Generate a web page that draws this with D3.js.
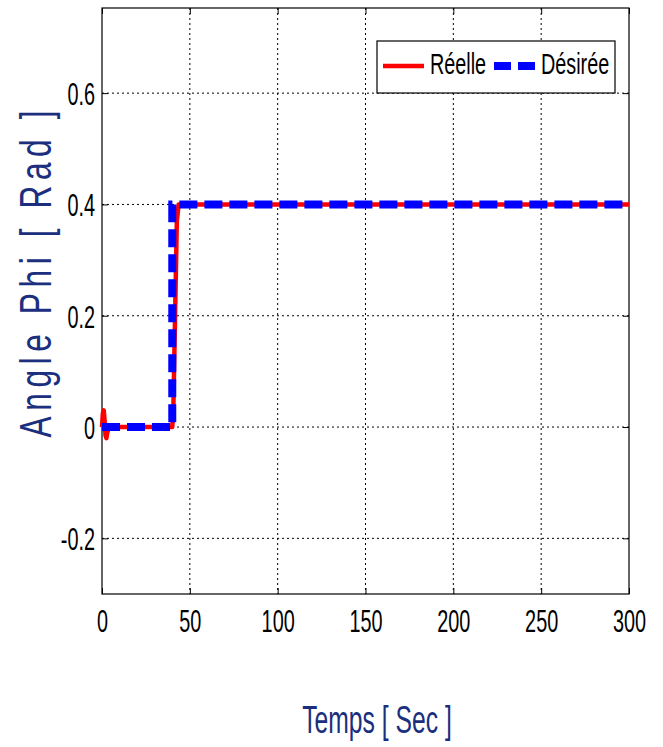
<!DOCTYPE html>
<html><head><meta charset="utf-8">
<script src="https://cdn.jsdelivr.net/npm/d3@7"></script>
<style>body{margin:0;background:#fff}svg{display:block}</style>
</head><body><svg id="c" width="663" height="747"></svg>
<script>
const xTicks = [0,50,100,150,200,250,300];
const yTicks = [-0.2,0,0.2,0.4,0.6];
const reelleT = [0,0.5,1,1.5,2,2.5,3,4,40,40.6,41.6,42.6,43.6,300];
const reelleV = [0,0.025,0.03,0.01,-0.015,-0.02,-0.01,0,0,0.03,0.2,0.37,0.4,0.4];
const desireeT = [0,40,40,300];
const desireeV = [0,0,0.4,0.4];
const seriesNames = ["Réelle","Désirée"];

const W=663,H=747,m={l:102,r:34,t:8,b:153};
const SX=0.62;
const svg=d3.select("#c");
const FONT='"Liberation Sans",Arial,sans-serif';
const x=d3.scaleLinear().domain([0,300]).range([m.l,W-m.r]);
const y=d3.scaleLinear().domain([-0.3,0.753]).range([H-m.b,m.t]);
const g=svg.append("g");
// grid
g.selectAll(".gx").data(xTicks.slice(1,-1)).join("line")
 .attr("x1",d=>x(d)).attr("x2",d=>x(d)).attr("y1",m.t).attr("y2",H-m.b)
 .attr("stroke","#000").attr("stroke-width",1).attr("stroke-dasharray","2,3");
g.selectAll(".gy").data(yTicks).join("line")
 .attr("y1",d=>y(d)).attr("y2",d=>y(d)).attr("x1",m.l).attr("x2",W-m.r)
 .attr("stroke","#000").attr("stroke-width",1).attr("stroke-dasharray","2,3");
// axes
const ax=d3.axisBottom(x).tickValues(xTicks).tickSize(-6).tickFormat(d3.format("d"));
const axT=d3.axisTop(x).tickValues(xTicks).tickSize(-6).tickFormat("");
const ay=d3.axisLeft(y).tickValues(yTicks).tickSize(-6).tickFormat(d=>d===0?"0":d3.format(".1f")(d).replace("−","-"));
const ayR=d3.axisRight(y).tickValues(yTicks).tickSize(-6).tickFormat("");
function style(s){s.select(".domain").remove();s.selectAll("line").attr("stroke","#000");
 s.selectAll("text").attr("font-family",FONT).attr("font-size",32).attr("fill","#000");}
g.append("g").attr("transform",`translate(0,${H-m.b})`).call(ax).call(style)
 .selectAll("text").attr("y",0).attr("dy",0).attr("transform",`translate(0,38) scale(${SX},1)`);
g.append("g").attr("transform",`translate(0,${m.t})`).call(axT).call(style);
g.append("g").attr("transform",`translate(${m.l},0)`).call(ay).call(style)
 .selectAll("text").attr("x",0).attr("dy","0.36em").attr("transform",`translate(-7,0) scale(${SX},1)`);
g.append("g").attr("transform",`translate(${W-m.r},0)`).call(ayR).call(style);
g.append("rect").attr("x",m.l).attr("y",m.t).attr("width",W-m.l-m.r).attr("height",H-m.t-m.b)
 .attr("fill","none").attr("stroke","#000").attr("stroke-width",1.2);
// lines
const line=d3.line().x(d=>x(d[0])).y(d=>y(d[1]));
const pl=svg.append("g");
pl.append("path").datum(reelleT.map((t,i)=>[t,reelleV[i]])).attr("d",line)
 .attr("fill","none").attr("stroke","#ff0000").attr("stroke-width",4.5).attr("stroke-linejoin","round");
pl.append("path").datum(desireeT.map((t,i)=>[t,desireeV[i]])).attr("d",line)
 .attr("fill","none").attr("stroke","#0000ff").attr("stroke-width",8).attr("stroke-dasharray","18,7");
// legend
const lg=svg.append("g");
lg.append("rect").attr("x",377).attr("y",41).attr("width",238).attr("height",52).attr("fill","#fff").attr("stroke","#000").attr("stroke-width",1.2);
lg.append("line").attr("x1",383).attr("x2",424).attr("y1",66).attr("y2",66).attr("stroke","#ff0000").attr("stroke-width",4.5);
lg.append("line").attr("x1",494).attr("x2",535).attr("y1",66).attr("y2",66).attr("stroke","#0000ff").attr("stroke-width",8).attr("stroke-dasharray","17,7");
lg.append("text").attr("transform","translate(430,74) scale(0.66,1)").text(seriesNames[0]).attr("font-family",FONT).attr("font-size",30);
lg.append("text").attr("transform","translate(541,74) scale(0.66,1)").text(seriesNames[1]).attr("font-family",FONT).attr("font-size",30);
// titles
svg.append("text").attr("transform","translate(377,733) scale(0.65,1)").attr("text-anchor","middle").attr("font-family",FONT)
 .attr("font-size",38).attr("fill","#1b2f7e").text("Temps [ Sec ]");
svg.append("text").attr("transform","translate(51,274) rotate(-90) scale(0.72,1)").attr("text-anchor","middle").attr("font-family",FONT)
 .attr("font-size",44).attr("textLength",327/0.72).attr("lengthAdjust","spacing").attr("fill","#1b2f7e").text("Angle Phi [ Rad ]");
</script></body></html>
